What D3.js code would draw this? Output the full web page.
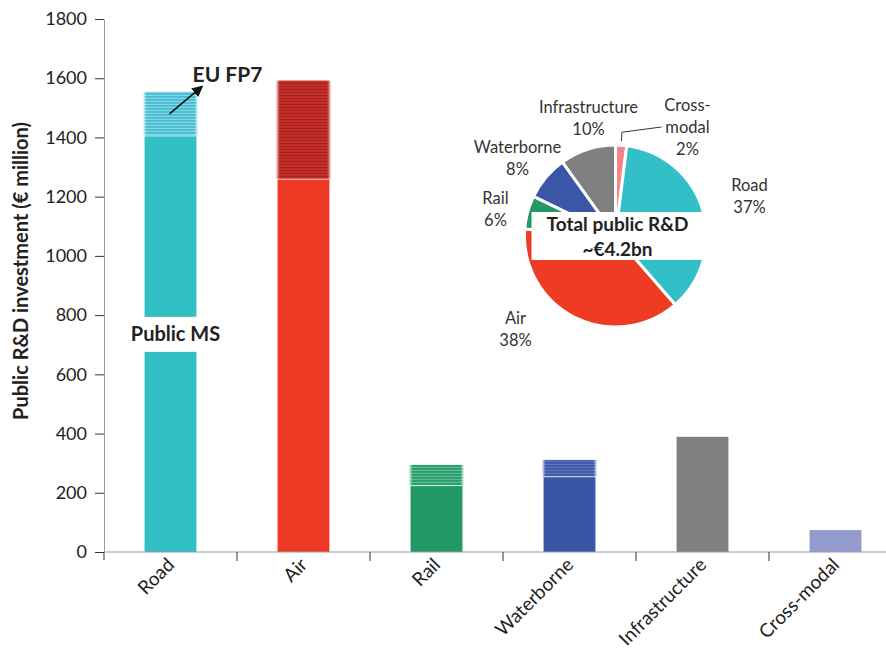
<!DOCTYPE html>
<html><head><meta charset="utf-8">
<script src="https://cdn.jsdelivr.net/npm/d3@7"></script>
<style>body{margin:0;background:#fff} svg{display:block;font-family:Lato,"Open Sans",sans-serif}</style>
</head><body><svg id="c" width="886" height="651"></svg>
<script>
// ---------- data ----------
const categories = ["Road", "Air", "Rail", "Waterborne", "Infrastructure", "Cross-modal"];
const publicMS = [1405, 1259, 224, 254, 389, 74];
const euFP7 = [149, 333, 70, 57, 0, 0];
const yTicks = [0, 200, 400, 600, 800, 1000, 1200, 1400, 1600, 1800];
const barColors = ["#31bfc6", "#ee3a24", "#219865", "#3a55a5", "#808080", "#939bcc"];
const fp7Colors = ["#45bdd3", "#c62f29", "#269d6b", "#3b58a6", "#808080", "#939bcc"];
const fp7Stripes = ["#86d4e6", "#a82420", "#5cbb92", "#5b76bb", "#808080", "#939bcc"];

const pieCategories = ["Cross-modal", "Road", "Air", "Rail", "Waterborne", "Infrastructure"];
const pieShares = [2, 37, 38, 6, 8, 10];
const pieLabels = [["Cross-", "modal", "2%"], ["Road", "37%"], ["Air", "38%"], ["Rail", "6%"], ["Waterborne", "8%"], ["Infrastructure", "10%"]];
const pieColors = ["#f28585", "#33bfc7", "#ee3b24", "#229966", "#3b56a6", "#808080"];

// ---------- layout ----------
const svg = d3.select("#c");
const W = 886, H = 651;
const y = d3.scaleLinear().domain([0, 1800]).range([552, 19]);
const x = d3.scaleBand().domain(categories).range([104, 902]).paddingInner(0.61).paddingOuter(0.305);
const bw = x.bandwidth();
const cx = c => x(c) + bw / 2;

const defs = svg.append("defs");
categories.forEach((c, i) => {
  const p = defs.append("pattern").attr("id", "pat" + i).attr("patternUnits", "userSpaceOnUse")
    .attr("width", 6).attr("height", 3);
  p.append("rect").attr("width", 6).attr("height", 3).attr("fill", fp7Colors[i]);
  p.append("rect").attr("y", 1.8).attr("width", 6).attr("height", 1.2).attr("fill", fp7Stripes[i]);
});
const blur = defs.append("filter").attr("id", "blur").attr("x", "-10%").attr("y", "-5%").attr("width", "120%").attr("height", "110%");
blur.append("feGaussianBlur").attr("stdDeviation", "1.3 0.35");
defs.append("marker").attr("id", "arr").attr("viewBox", "0 0 10 10").attr("refX", 8).attr("refY", 5)
  .attr("markerWidth", 7).attr("markerHeight", 7).attr("orient", "auto")
  .append("path").attr("d", "M0,0 L10,5 L0,10 z").attr("fill", "#111");

// ---------- bars ----------
const g = svg.append("g");
g.selectAll("rect.ms").data(categories).join("rect").attr("class", "ms")
  .attr("x", c => x(c)).attr("width", bw)
  .attr("y", (c, i) => y(publicMS[i])).attr("height", (c, i) => y(0) - y(publicMS[i]))
  .attr("fill", (c, i) => barColors[i]);
g.selectAll("rect.fp").data(categories.filter((c, i) => euFP7[i] > 0)).join("rect").attr("class", "fp")
  .attr("x", c => x(c)).attr("width", bw)
  .attr("y", c => { const i = categories.indexOf(c); return y(publicMS[i] + euFP7[i]); })
  .attr("height", c => { const i = categories.indexOf(c); return y(publicMS[i]) - y(publicMS[i] + euFP7[i]); })
  .attr("fill", c => "url(#pat" + categories.indexOf(c) + ")")
  .attr("filter", "url(#blur)");
g.selectAll("line.sep").data(categories.filter((c, i) => euFP7[i] > 0)).join("line").attr("class", "sep")
  .attr("x1", c => x(c)).attr("x2", c => x(c) + bw)
  .attr("y1", c => y(publicMS[categories.indexOf(c)])).attr("y2", c => y(publicMS[categories.indexOf(c)]))
  .attr("stroke", "#fff").attr("stroke-opacity", 0.7).attr("stroke-width", 1);

// Public MS label with white gap
const msVal = 735;
g.append("rect").attr("x", x("Road") - 1).attr("width", bw + 2).attr("y", y(msVal) - 17.5).attr("height", 35).attr("fill", "#fff");
g.append("text").attr("x", cx("Road") + 5).attr("y", y(msVal)).attr("dy", "0.35em")
  .attr("text-anchor", "middle").attr("font-weight", "bold").attr("font-size", 20).attr("fill", "#222").text("Public MS");

// EU FP7 annotation
const ax0 = cx("Road") - 1, ay0 = y(publicMS[0] + euFP7[0] / 2);
const ax1 = ax0 + 32, ay1 = ay0 - 27;
g.append("line").attr("x1", ax0).attr("y1", ay0).attr("x2", ax1).attr("y2", ay1)
  .attr("stroke", "#111").attr("stroke-width", 1.6).attr("marker-end", "url(#arr)");
g.append("text").attr("x", ax1 + 26).attr("y", ay1 - 12).attr("dy", "0.35em").attr("text-anchor", "middle")
  .attr("font-weight", "bold").attr("font-size", 21).attr("fill", "#222").text("EU FP7");

// ---------- axes ----------
const yAxis = svg.append("g").attr("transform", "translate(104,0)")
  .call(d3.axisLeft(y).tickValues(yTicks).tickFormat(d3.format("d")).tickSize(9).tickSizeOuter(0).tickPadding(8));
yAxis.select(".domain").attr("stroke", "#999");
yAxis.selectAll(".tick line").attr("stroke", "#333");
yAxis.selectAll(".tick text").attr("font-size", 18).attr("fill", "#222").attr("font-family", "Lato");
yAxis.append("line").attr("x1", 0).attr("x2", 0).attr("y1", y(0)).attr("y2", y(0) + 8).attr("stroke", "#333");

svg.append("line").attr("x1", 104).attr("x2", W).attr("y1", y(0)).attr("y2", y(0)).attr("stroke", "#999");
svg.selectAll("line.xt").data(categories.slice(1)).join("line").attr("class", "xt")
  .attr("x1", c => cx(c) - x.step() / 2).attr("x2", c => cx(c) - x.step() / 2)
  .attr("y1", y(0)).attr("y2", y(0) + 9).attr("stroke", "#333");
svg.selectAll("text.xl").data(categories).join("text").attr("class", "xl")
  .attr("transform", c => `translate(${cx(c) + 5},${y(0) + 14}) rotate(-45)`)
  .attr("text-anchor", "end").attr("font-size", 19).attr("fill", "#222").text(c => c);

svg.append("text").attr("transform", "translate(28,271) rotate(-90)").attr("text-anchor", "middle")
  .attr("font-weight", "bold").attr("font-size", 20).attr("fill", "#222").text("Public R&D investment (€ million)");

// ---------- pie ----------
const pcx = 615.5, pcy = 236, pr = 91;
const pg = svg.append("g").attr("transform", `translate(${pcx},${pcy})`);
const arcs = d3.pie().sort(null).value(d => d)(pieShares);
const arc = d3.arc().innerRadius(0).outerRadius(pr);
pg.selectAll("path").data(arcs).join("path").attr("d", arc)
  .attr("fill", (d, i) => pieColors[i]).attr("stroke", "#fff").attr("stroke-width", 3).attr("stroke-linejoin", "round");

// label positions relative to pie centre (layout only)
const labelPos = [[72, -125], [134, -45], [-100, 88], [-120, -32], [-98, -83], [-27, -123]];
pieLabels.forEach((lines, i) => {
  const t = pg.append("text").attr("x", labelPos[i][0]).attr("y", labelPos[i][1])
    .attr("text-anchor", "middle").attr("font-size", 16.5).attr("fill", "#333");
  lines.forEach((l, j) => t.append("tspan").attr("x", labelPos[i][0]).attr("dy", j === 0 ? 0 : 22).text(l));
});
// leader line for cross-modal
const ma = (arcs[0].startAngle + arcs[0].endAngle) / 2;
const pA = [Math.sin(ma) * (pr + 4), -Math.cos(ma) * (pr + 4)];
const pB = [Math.sin(ma) * (pr + 13), -Math.cos(ma) * (pr + 13)];
pg.append("polyline").attr("points", [pA, pB, [46, -109]].map(p => p.join(",")).join(" "))
  .attr("fill", "none").attr("stroke", "#333").attr("stroke-width", 1);

// centre box
pg.append("rect").attr("x", -84).attr("y", -24).attr("width", 175).attr("height", 48).attr("fill", "#fff");
pg.append("text").attr("x", 2).attr("y", -12).attr("dy", "0.35em").attr("text-anchor", "middle")
  .attr("font-weight", "bold").attr("font-size", 19).attr("fill", "#222").text("Total public R&D");
pg.append("text").attr("x", 2).attr("y", 13).attr("dy", "0.35em").attr("text-anchor", "middle")
  .attr("font-weight", "bold").attr("font-size", 19).attr("fill", "#222").text("~€4.2bn");
</script></body></html>
